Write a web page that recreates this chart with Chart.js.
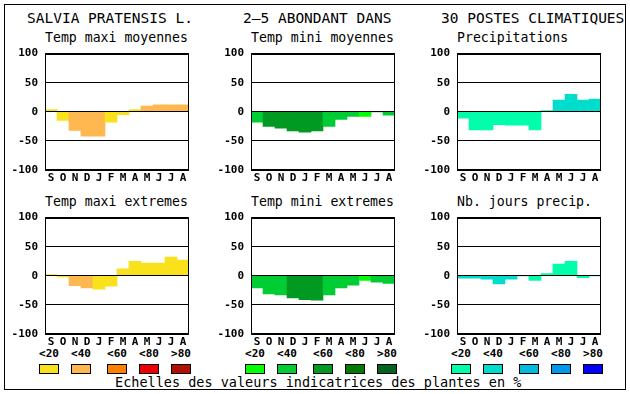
<!DOCTYPE html>
<html>
<head>
<meta charset="utf-8">
<script src="https://cdn.jsdelivr.net/npm/chart.js@4"></script>
<style>
  body { margin: 0; background: #fff; width: 630px; height: 394px; overflow: hidden; position: relative; font-family: "DejaVu Sans Mono", monospace; color: #000; }
  .frame { position: absolute; left: 4px; top: 4px; width: 620px; height: 384px; border: 1px solid #000; }
  .txt { position: absolute; white-space: pre; line-height: 20px; height: 20px; }
  .title { font-size: 14.5px; top: 8px; }
  .sub { font-size: 13.2px; }
  .lab { font-size: 11px; font-weight: bold; width: 30px; text-align: center; top: 344px; }
  .box { position: absolute; top: 364px; width: 18px; height: 8px; border: 1px solid #000; }
  canvas { position: absolute; }
</style>
</head>
<body>
<div class="frame"></div>
<div id="page"></div>
<canvas id="c1" width="200" height="150" style="left:0px;top:40px"></canvas>
<canvas id="c2" width="200" height="150" style="left:206px;top:40px"></canvas>
<canvas id="c3" width="200" height="150" style="left:412px;top:40px"></canvas>
<canvas id="c4" width="200" height="150" style="left:0px;top:204px"></canvas>
<canvas id="c5" width="200" height="150" style="left:206px;top:204px"></canvas>
<canvas id="c6" width="200" height="150" style="left:412px;top:204px"></canvas>
<script>
// data
let months = ["S", "O", "N", "D", "J", "F", "M", "A", "M", "J", "J", "A"];
let classLabels = ["<20", "<40", "<60", "<80", ">80"];
let panelTitles = ["Temp maxi moyennes", "Temp mini moyennes", "Precipitations",
  "Temp maxi extremes", "Temp mini extremes", "Nb. jours precip."];

let maxiMoy = [4, -15, -32, -42, -42, -18, -5, 4, 10, 12, 12, 12];
let maxiMoyClass = [0, 0, 1, 1, 1, 0, 0, 0, 1, 1, 1, 1];
let miniMoy = [-18, -25, -28, -33, -35, -33, -25, -13, -8, -8, 0, -6];
let miniMoyClass = [1, 2, 2, 2, 2, 2, 1, 1, 1, 0, 1, 1];
let precip = [-11, -31, -31, -22, -23, -23, -31, 2, 20, 30, 20, 22];
let precipClass = [0, 0, 0, 0, 0, 0, 0, 0, 1, 1, 1, 1];
let maxiExt = [2, -2, -17, -21, -23, -18, 12, 25, 22, 22, 32, 27];
let maxiExtClass = [0, 0, 1, 1, 0, 0, 0, 0, 0, 0, 0, 0];
let miniExt = [-21, -31, -33, -38, -41, -42, -33, -21, -16, -8, -11, -13];
let miniExtClass = [1, 1, 1, 2, 2, 2, 1, 1, 1, 0, 1, 1];
let nbJours = [-4, -4, -6, -14, -6, 0, -8, 4, 20, 25, -3, 0];
let nbJoursClass = [1, 1, 1, 1, 1, 0, 0, 0, 0, 0, 0, 0];

let warm = ["#f9e11b", "#ffb850", "#ff8000", "#ee0000", "#b01000"];
let green = ["#00ff00", "#00cc33", "#009922", "#007a00", "#006420"];
let blue = ["#00ffaa", "#00ddcc", "#00bbdd", "#0099ee", "#0000ff"];

function addText(cls, text, left, top) {
  let div = document.createElement("div");
  div.className = "txt " + cls;
  div.textContent = text;
  div.style.left = left + "px";
  if (top != undefined) div.style.top = top + "px";
  document.getElementById("page").appendChild(div);
}

function buildPage() {
  addText("title", "SALVIA PRATENSIS L.", 27);
  addText("title", "2–5 ABONDANT DANS", 243);
  addText("title", "30 POSTES CLIMATIQUES", 441);
  let lefts = [45, 251, 457];
  for (let i = 0; i < 6; i++) {
    addText("sub", panelTitles[i], lefts[i % 3], i < 3 ? 28 : 192);
  }
  let palettes = [warm, green, blue];
  let boxLefts = [39, 71, 107, 139, 171];
  for (let p = 0; p < 3; p++) {
    for (let k = 0; k < 5; k++) {
      let x = boxLefts[k] + p * 206;
      addText("lab", classLabels[k], x - 5);
      let box = document.createElement("div");
      box.className = "box";
      box.style.left = x + "px";
      box.style.background = palettes[p][k];
      document.getElementById("page").appendChild(box);
    }
  }
  addText("sub", "Echelles des valeurs indicatrices des plantes en %", 115, 372);
  document.querySelectorAll(".txt.sub")[6].style.fontSize = "13.5px";
}

const plotFrame = {
  id: "plotFrame",
  afterDraw(chart) {
    let a = chart.chartArea;
    let ctx = chart.ctx;
    ctx.save();
    ctx.strokeStyle = "#000";
    ctx.lineWidth = 1;
    ctx.strokeRect(Math.round(a.left) + 0.5, Math.round(a.top) + 0.5, Math.round(a.right - a.left) - 1, Math.round(a.bottom - a.top) - 1);
    ctx.restore();
  },
};

function makeChart(id, values, classes, palette) {
  new Chart(document.getElementById(id), {
    type: "bar",
    data: {
      labels: months,
      datasets: [
        {
          data: values,
          backgroundColor: classes.map((c) => palette[c]),
          borderWidth: 0,
          barPercentage: 1,
          categoryPercentage: 1,
        },
      ],
    },
    options: {
      responsive: false,
      animation: false,
      layout: { padding: { top: 10, right: 11, bottom: 0, left: 0 } },
      plugins: { legend: { display: false }, tooltip: { enabled: false } },
      scales: {
        x: {
          grid: { display: false, drawTicks: false },
          border: { display: false },
          ticks: {
            color: "#000",
            font: { family: "DejaVu Sans Mono", size: 11, weight: "bold" },
            padding: 2,
            maxRotation: 0,
            autoSkip: false,
          },
          afterFit: (axis) => { axis.height = 20; },
        },
        y: {
          min: -100,
          max: 100,
          ticks: {
            stepSize: 50,
            color: "#000",
            font: { family: "DejaVu Sans Mono", size: 11, weight: "bold" },
            padding: 7,
          },
          grid: { color: "#000", lineWidth: 1, drawTicks: false, z: 1 },
          border: { display: false },
          afterFit: (axis) => { axis.width = 45; },
        },
      },
    },
    plugins: [plotFrame],
  });
}

buildPage();
makeChart("c1", maxiMoy, maxiMoyClass, warm);
makeChart("c2", miniMoy, miniMoyClass, green);
makeChart("c3", precip, precipClass, blue);
makeChart("c4", maxiExt, maxiExtClass, warm);
makeChart("c5", miniExt, miniExtClass, green);
makeChart("c6", nbJours, nbJoursClass, blue);
</script>
</body>
</html>
